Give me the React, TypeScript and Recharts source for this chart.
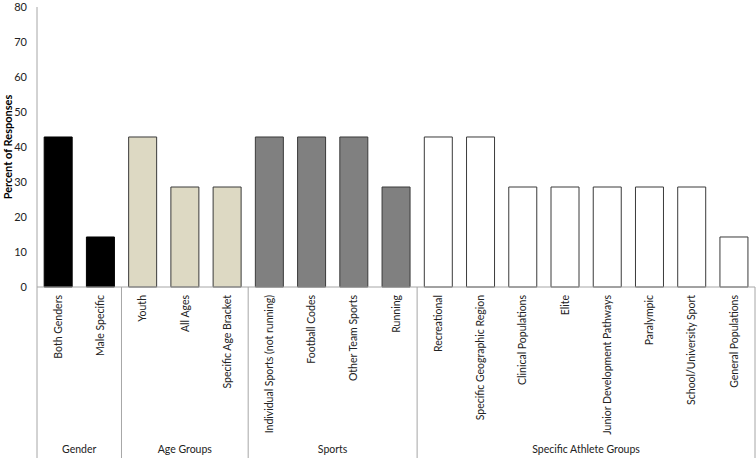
import React from 'react';
import { BarChart, Bar, XAxis, YAxis, Cell } from 'recharts';

const categories = [
  'Both Genders', 'Male Specific',
  'Youth', 'All Ages', 'Specific Age Bracket',
  'Individual Sports (not running)', 'Football Codes', 'Other Team Sports', 'Running',
  'Recreational', 'Specific Geographic Region', 'Clinical Populations', 'Elite',
  'Junior Development Pathways', 'Paralympic', 'School/University Sport', 'General Populations',
];
const percents = [
  42.86, 14.29,
  42.86, 28.57, 28.57,
  42.86, 42.86, 42.86, 28.57,
  42.86, 42.86, 28.57, 28.57, 28.57, 28.57, 28.57, 14.29,
];
const groupNames = ['Gender', 'Age Groups', 'Sports', 'Specific Athlete Groups'];
const groupSizes = [2, 3, 4, 8];
const groupFills = ['#000000', '#ddd9c3', '#808080', '#ffffff'];
const yTicks = [0, 10, 20, 30, 40, 50, 60, 70, 80];

const W = 756;
const H = 458;
const M = { top: 7, right: 1, left: 0, bottom: 0 };
const Y_AXIS_W = 37;
const PLOT_X = M.left + Y_AXIS_W;
const PLOT_W = W - M.right - PLOT_X;
const FONT = 'Lato, "Open Sans", sans-serif';
const AXIS_GREY = '#a6a6a6';

// which group each category belongs to
const groupIndex: number[] = [];
groupSizes.forEach((n, g) => {
  for (let k = 0; k < n; k++) groupIndex.push(g);
});

const data = categories.map((name, i) => ({
  name,
  value: percents[i],
  group: groupIndex[i],
}));

// draws group separators + group names once (with the first tick)
const GroupBands = ({ axisY }: { axisY: number }) => {
  const step = PLOT_W / categories.length;
  let start = 0;
  const out: React.ReactNode[] = [];
  groupSizes.forEach((n, g) => {
    const left = PLOT_X + start * step;
    out.push(<line key={'l' + g} x1={left} x2={left} y1={axisY} y2={H} stroke={AXIS_GREY} />);
    out.push(
      <text key={'t' + g} x={left + (n * step) / 2} y={453} textAnchor="middle"
        fontSize={10.5} fontFamily={FONT} fill="#222">
        {groupNames[g]}
      </text>
    );
    start += n;
  });
  const right = PLOT_X + start * step;
  out.push(<line key="end" x1={right} x2={right} y1={axisY} y2={H} stroke={AXIS_GREY} />);
  return <g>{out}</g>;
};

const CategoryTick = (props: any) => {
  const { x, y, payload, index } = props;
  return (
    <g>
      <text
        transform={`translate(${x},${y}) rotate(-90)`}
        textAnchor="end"
        dy="0.35em"
        fontSize={10.5}
        fontFamily={FONT}
        fill="#222"
      >
        {payload.value}
      </text>
      {index === 0 && <GroupBands axisY={y - 8} />}
    </g>
  );
};

export default function App() {
  return (
    <div style={{ position: 'absolute', left: 0, top: 0, width: W, height: H, background: '#fff' }}>
      <BarChart width={W} height={H} data={data} margin={M} barCategoryGap="17%">
        <XAxis
          dataKey="name"
          interval={0}
          height={171}
          axisLine={{ stroke: AXIS_GREY }}
          tickLine={false}
          tick={<CategoryTick />}
        />
        <YAxis
          domain={[0, 80]}
          ticks={yTicks}
          width={Y_AXIS_W}
          axisLine={{ stroke: AXIS_GREY }}
          tickLine={false}
          tickMargin={4}
          tick={{ fontSize: 11, fontFamily: FONT, fill: '#222' }}
          label={{
            value: 'Percent of Responses',
            angle: -90,
            position: 'insideLeft',
            offset: 8,
            style: { textAnchor: 'middle', fontSize: 11, fontWeight: 700, fontFamily: FONT, fill: '#000' },
          }}
        />
        <Bar dataKey="value" isAnimationActive={false} stroke="#3a3a3a" strokeWidth={1}>
          {data.map((d, i) => (
            <Cell key={i} fill={groupFills[d.group]} stroke={d.group === 0 ? '#000' : '#3a3a3a'} />
          ))}
        </Bar>
      </BarChart>
    </div>
  );
}
